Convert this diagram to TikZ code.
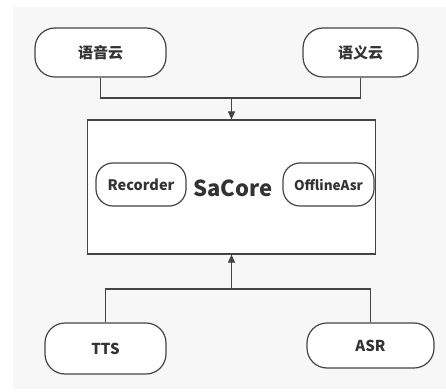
\documentclass[tikz,border=0pt]{standalone}
\usepackage{fontspec}
\setmainfont{Noto Sans CJK SC}
\usetikzlibrary{arrows.meta}
\definecolor{bg}{HTML}{F7F7F7}
\definecolor{ln}{HTML}{444444}
\definecolor{tx}{HTML}{333333}
\begin{document}
\begin{tikzpicture}[x=1pt,y=1pt,
  pill/.style={draw=ln,line width=1.2pt,fill=white,rounded corners=20pt,inner sep=0pt,font=\bfseries\fontsize{15}{17}\selectfont,text=tx},
  small/.style={draw=ln,line width=1.2pt,fill=white,rounded corners=17pt,inner sep=0pt,font=\bfseries\fontsize{14.5}{16}\selectfont,text=tx},
  conn/.style={draw=ln,line width=1.2pt},
  arr/.style={conn,-{Triangle[length=8pt,width=7pt]}}]
\useasboundingbox (0,0) rectangle (446,391);
\fill[white] (0,0) rectangle (446,391);
\fill[bg] (13,2) rectangle (446,384);
\node[pill,minimum width=131pt,minimum height=49pt] (yy) at (100.5,338.5) {语音云};
\node[pill,minimum width=115pt,minimum height=49pt] (yi) at (360.5,338.5) {语义云};
\node[draw=ln,line width=1.2pt,fill=white,minimum width=288pt,minimum height=134pt,inner sep=0pt] (core) at (231.5,204) {};
\node[small,minimum width=90pt,minimum height=43pt] (rec) at (141,206.5) {Recorder};
\node[small,minimum width=91pt,minimum height=43pt,font=\bfseries\fontsize{13.5}{15}\selectfont] (off) at (328.5,206.5) {OfflineAsr};
\node[font=\bfseries\fontsize{22}{26}\selectfont,text=tx,inner sep=0pt] (sa) at (233,203) {SaCore};
\node[pill,minimum width=121pt,minimum height=51pt] (tts) at (105.5,42.5) {TTS};
\node[pill,minimum width=127pt,minimum height=45pt] (asr) at (370.5,45.5) {ASR};
\coordinate (jt) at (231.5,293);
\coordinate (jb) at (231.5,102);
\draw[conn] (yy.south) |- (jt) -| (yi.south);
\draw[arr] (jt) -- (core.north);
\draw[conn] (tts.north) |- (jb) -| (asr.north);
\draw[arr] (jb) -- (core.south);
\end{tikzpicture}
\end{document}
